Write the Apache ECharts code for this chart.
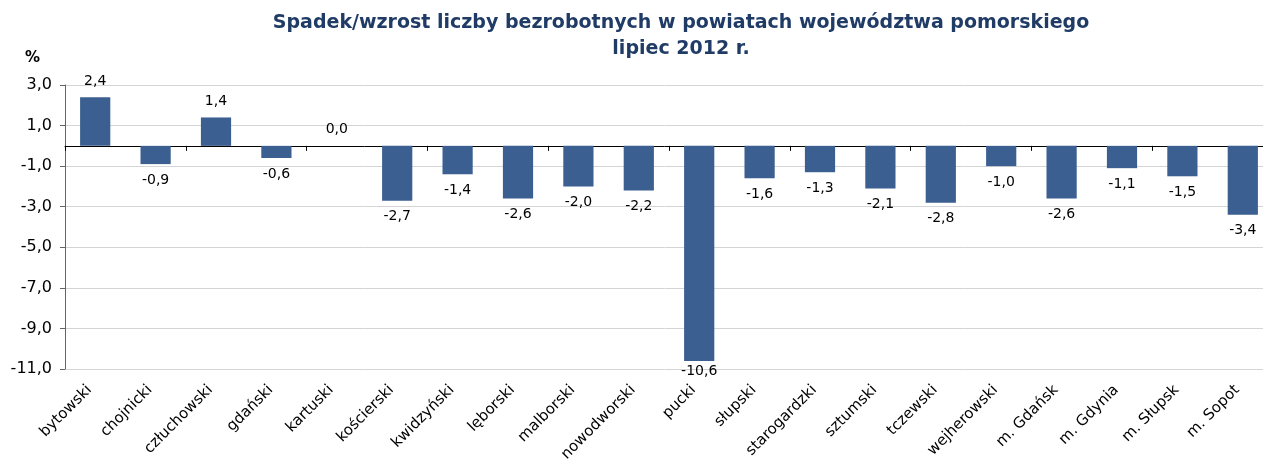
<!DOCTYPE html>
<html>
<head>
<meta charset="utf-8">
<script src="https://cdn.jsdelivr.net/npm/echarts@6/dist/echarts.min.js"></script>
<style>
  html, body { margin: 0; padding: 0; background: #fff; }
  #chart { width: 1263px; height: 460px; }
</style>
</head>
<body>
<div id="chart"></div>
<script>
var categories = ['bytowski', 'chojnicki', 'człuchowski', 'gdański', 'kartuski', 'kościerski',
  'kwidzyński', 'lęborski', 'malborski', 'nowodworski', 'pucki', 'słupski', 'starogardzki',
  'sztumski', 'tczewski', 'wejherowski', 'm. Gdańsk', 'm. Gdynia', 'm. Słupsk', 'm. Sopot']
var values = [2.4, -0.9, 1.4, -0.6, 0.0, -2.7, -1.4, -2.6, -2.0, -2.2, -10.6, -1.6, -1.3,
  -2.1, -2.8, -1.0, -2.6, -1.1, -1.5, -3.4]

var FONT = 'DejaVu Sans'
var chart = echarts.init(document.getElementById('chart'))

function comma(v) {
  return v.toFixed(1).replace('.', ',')
}

// labels above positive bars, below negative ones (Excel style)
var barData = values.map(function(v) {
  return {
    value: v,
    label: {
      position: v < 0 ? 'bottom' : 'top',
      distance: v < -10 ? 3 : 9
    }
  }
})

chart.setOption({
  animation: false,
  title: [{
    text: 'Spadek/wzrost liczby bezrobotnych w powiatach województwa pomorskiego\nlipiec 2012 r.',
    left: 676,
    textAlign: 'center',
    top: 5,
    textStyle: {
      fontFamily: FONT,
      fontSize: 19,
      fontWeight: 'bold',
      color: '#1f3b66',
      lineHeight: 26
    }
  }, {
    text: '%',
    left: 20,
    top: 46,
    textStyle: { fontFamily: FONT, fontSize: 15, fontWeight: 'bold', color: '#000' }
  }],
  grid: { left: 65, width: 1208, top: 85, bottom: 91, outerBoundsMode: 'none', containLabel: false },
  xAxis: [{
    type: 'category',
    data: categories,
    position: 'bottom',
    axisLine: { show: false, onZero: false },
    axisTick: { show: false },
    axisLabel: {
      interval: 0,
      rotate: 45,
      margin: 13,
      padding: [0, 8, 0, 0],
      fontFamily: FONT,
      fontSize: 15,
      color: '#000'
    }
  }, {
    type: 'category',
    data: categories,
    position: 'bottom',
    axisLine: { show: true, onZero: true, lineStyle: { color: '#000', width: 1 } },
    axisTick: { show: true, length: 5, lineStyle: { color: '#000' } },
    axisLabel: { show: false }
  }],
  yAxis: {
    type: 'value',
    min: -11,
    max: 3,
    interval: 2,
    axisLine: { show: true, lineStyle: { color: '#666' } },
    axisTick: { show: true, length: 5, lineStyle: { color: '#666' } },
    splitLine: { lineStyle: { color: '#d4d4d4' } },
    axisLabel: {
      fontFamily: FONT,
      fontSize: 16,
      color: '#000',
      margin: 13,
      padding: [4, 0, 0, 0],
      formatter: function(v) { return comma(v) }
    }
  },
  series: [{
    type: 'bar',
    xAxisIndex: 0,
    data: barData,
    barWidth: '50%',
    itemStyle: { color: '#3a5f90' },
    label: {
      show: true,
      fontFamily: FONT,
      fontSize: 14,
      color: '#000',
      formatter: function(p) { return comma(p.value) }
    }
  }]
})
</script>
</body>
</html>
